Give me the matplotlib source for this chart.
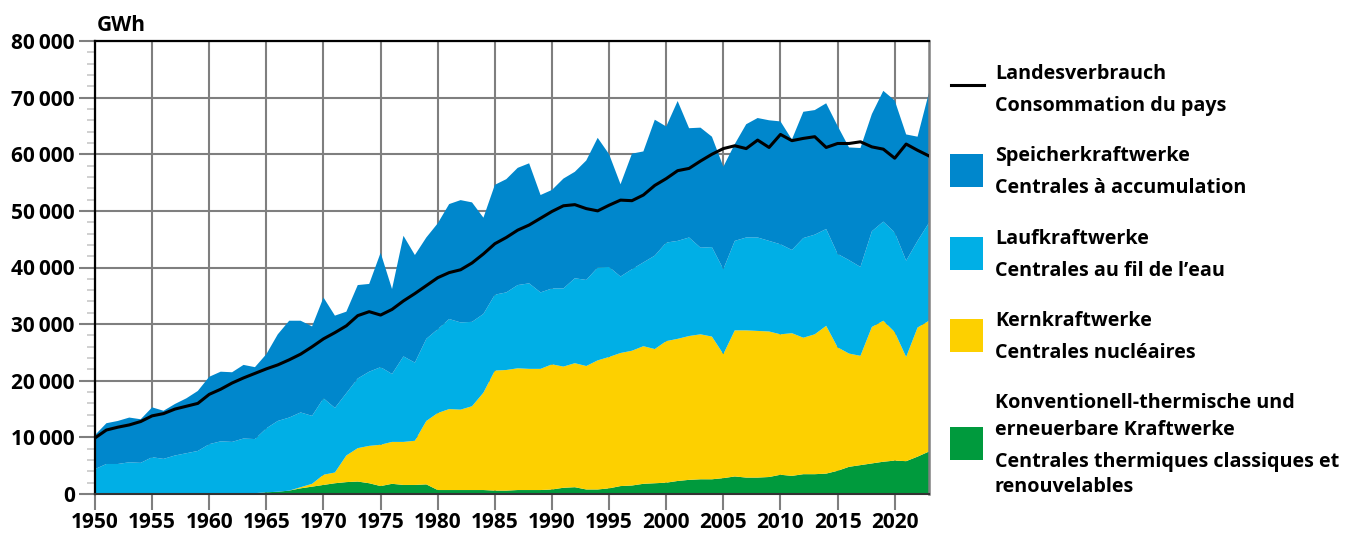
import numpy as np
import matplotlib
matplotlib.use('Agg')
import matplotlib.pyplot as plt
from matplotlib.patches import Rectangle

plt.rcParams['font.family'] = ['Open Sans', 'DejaVu Sans']
plt.rcParams['font.weight'] = 'bold'

# Swiss electricity production by plant type and national consumption, GWh
years = list(range(1950, 2024))

thermal = [0, 0, 0, 0, 0, 0, 0, 0, 0, 0,
           0, 0, 0, 100, 150, 300, 400, 600, 1000, 1300,
           1600, 1900, 2100, 2200, 1900, 1400, 1800, 1600, 1600, 1700,
           700, 700, 700, 700, 700, 600, 600, 700, 700, 700,
           800, 1100, 1200, 800, 800, 1000, 1400, 1500, 1800, 1900,
           2000, 2300, 2500, 2600, 2600, 2800, 3100, 2900, 2900, 3000,
           3400, 3200, 3500, 3500, 3600, 4100, 4800, 5100, 5400, 5700,
           5900, 5800, 6600, 7500]

nuclear = [0, 0, 0, 0, 0, 0, 0, 0, 0, 0,
           0, 0, 0, 0, 0, 0, 0, 0, 200, 500,
           1800, 1900, 4700, 5900, 6600, 7300, 7400, 7600, 7800, 11200,
           13600, 14300, 14200, 14800, 17200, 21200, 21300, 21500, 21400, 21400,
           22100, 21400, 21900, 21800, 22800, 23200, 23500, 23800, 24300, 23700,
           25000, 25100, 25400, 25600, 25200, 21900, 25800, 26000, 25900, 25700,
           24800, 25200, 24100, 24700, 26100, 21800, 20000, 19300, 24100, 24900,
           22700, 18400, 22800, 23100]

run_of_river = [4400, 5300, 5300, 5600, 5500, 6500, 6200, 6800, 7200, 7600,
                8800, 9300, 9200, 9700, 9550, 11300, 12500, 12900, 13200, 12000,
                13500, 11400, 11000, 12300, 13100, 13700, 12000, 15100, 13800, 14500,
                14800, 15900, 15400, 14900, 13900, 13400, 13700, 14700, 15100, 13500,
                13400, 13800, 15000, 15200, 16400, 15900, 13500, 14400, 14800, 16500,
                17400, 17300, 17400, 15300, 15800, 15000, 15800, 16400, 16500, 16000,
                15900, 14700, 17600, 17600, 17100, 16500, 16500, 15700, 16900, 17500,
                17600, 17000, 15300, 17300]

storage = [6000, 7200, 7600, 7900, 7700, 8800, 8500, 9100, 9700, 10600,
           11900, 12300, 12300, 13000, 12700, 13100, 15300, 17100, 16200, 15800,
           17800, 16300, 14400, 16500, 15500, 20200, 15000, 21300, 19000, 17900,
           18700, 20300, 21600, 21100, 17000, 19400, 20000, 20700, 21200, 17200,
           17400, 19400, 18800, 21100, 22900, 19900, 16300, 20400, 19600, 24000,
           20500, 24700, 19300, 21200, 19500, 18100, 17100, 20000, 21100, 21300,
           21700, 19500, 22300, 22000, 22200, 22600, 19900, 21000, 20700, 23100,
           23300, 22300, 18400, 23000]

consumption = [9900, 11300, 11800, 12200, 12800, 13800, 14200, 15000, 15500, 16000,
               17600, 18500, 19600, 20500, 21300, 22100, 22800, 23700, 24700, 26000,
               27400, 28500, 29700, 31500, 32200, 31600, 32600, 34100, 35400, 36800,
               38200, 39100, 39600, 40800, 42400, 44200, 45300, 46600, 47500, 48700,
               49900, 50900, 51100, 50400, 50000, 51000, 51900, 51800, 52800, 54500,
               55700, 57100, 57500, 58800, 60000, 61000, 61500, 61000, 62500, 61200,
               63500, 62400, 62800, 63100, 61200, 61900, 61900, 62200, 61300, 60900,
               59300, 61800, 60700, 59700]

c_storage = '#0087cc'
c_river = '#00afe6'
c_nuclear = '#fdd000'
c_thermal = '#009a3d'
grid_c = '#7f7f7f'

fig = plt.figure(figsize=(13.45, 5.35), dpi=100)
ax = fig.add_axes([95/1345, 1-494/535, (929-95)/1345, (494-41)/535])

ax.stackplot(years, thermal, nuclear, run_of_river, storage,
             colors=[c_thermal, c_nuclear, c_river, c_storage], linewidth=0)
ax.plot(years, consumption, color='black', lw=2.2, zorder=5)

ax.set_xlim(1950, 2023)
ax.set_ylim(0, 80000)
ax.set_axisbelow(True)

yt = list(range(0, 80001, 10000))
ax.set_yticks(yt)
ax.set_yticklabels([f'{v:,}'.replace(',', '\u2009') for v in yt])
ax.set_yticks(range(0, 80001, 2000), minor=True)
ax.set_xticks(range(1950, 2021, 5))

ax.grid(True, which='major', color=grid_c, lw=1.5)
ax.tick_params(axis='both', which='major', labelsize=15, length=11.5, width=1.5,
               color=grid_c, pad=3)
ax.tick_params(axis='y', which='minor', length=6, width=1.2, color='#c8c8c8')
ax.tick_params(axis='x', pad=1.5)

for s in ['left', 'top']:
    ax.spines[s].set_color('black')
    ax.spines[s].set_linewidth(1.6)
ax.spines['right'].set_color(grid_c)
ax.spines['right'].set_linewidth(1.8)
ax.spines['bottom'].set_color('#333333')
ax.spines['bottom'].set_linewidth(1.5)

# overlay in pixel coordinates for unit label and legend
ov = fig.add_axes([0, 0, 1, 1])
ov.set_xlim(0, 1345)
ov.set_ylim(535, 0)
ov.axis('off')

ov.text(97, 31, 'GWh', fontsize=15, fontweight='bold', va='baseline')

fs = 14.2
tx = 995
ov.plot([951, 984], [85, 85], color='black', lw=2.2)
ov.text(tx, 79, 'Landesverbrauch', fontsize=fs, va='baseline')
ov.text(tx, 111, 'Consommation du pays', fontsize=fs, va='baseline')

legend_items = [
    (c_storage, 154, [(161, 'Speicherkraftwerke'), (193, 'Centrales à accumulation')]),
    (c_river, 237, [(244, 'Laufkraftwerke'), (276, 'Centrales au fil de l\u2019eau')]),
    (c_nuclear, 319, [(326, 'Kernkraftwerke'), (358, 'Centrales nucléaires')]),
    (c_thermal, 427, [(408, 'Konventionell-thermische und'),
                      (435, 'erneuerbare Kraftwerke'),
                      (467, 'Centrales thermiques classiques et'),
                      (492, 'renouvelables')]),
]
for col, ytop, lines in legend_items:
    ov.add_patch(Rectangle((950, ytop), 33, 33, color=col, lw=0))
    for yb, t in lines:
        ov.text(tx, yb, t, fontsize=fs, va='baseline')

fig.savefig('out.png', dpi=100)
